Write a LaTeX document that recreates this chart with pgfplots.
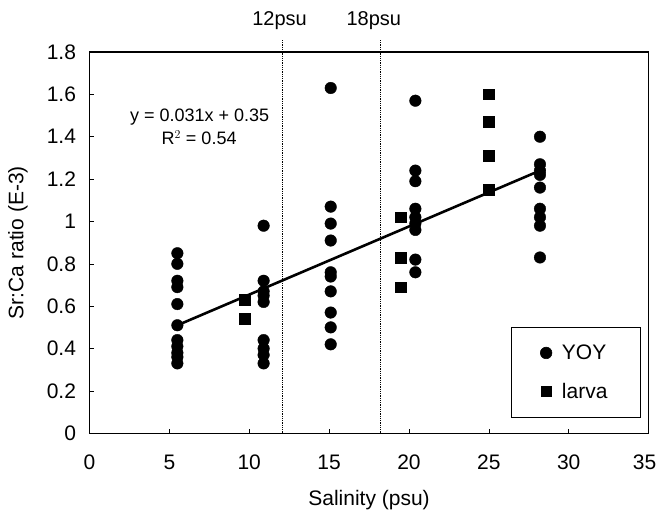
\documentclass[border=0pt]{standalone}
\usepackage{pgfplots}
\pgfplotsset{compat=1.18}
\usepackage{fontspec}
\setmainfont{Liberation Sans}
\begin{document}
\begin{tikzpicture}[x=1pt,y=1pt]
\useasboundingbox (0,0) rectangle (657,518);
\begin{axis}[
  at={(89.5pt,84.7pt)}, anchor=south west,
  scale only axis, width=559.1pt, height=381.3pt,
  xmin=0, xmax=35, ymin=0, ymax=1.8,
  xtick={0,5,10,15,20,25,30,35},
  xticklabels={0,5,10,15,20,25,30,\hspace*{-8pt}35},
  ytick={0,0.2,0.4,0.6,0.8,1,1.2,1.4,1.6,1.8},
  yticklabels={0,0.2,0.4,0.6,0.8,1,1.2,1.4,1.6,1.8},
  tick align=inside, xtick pos=bottom, ytick pos=left,
  major tick length=4pt,
  tick style={black, line width=0.6pt},
  axis line style={black, line width=1.2pt},
  /pgf/number format/assume math mode=true,
  ticklabel style={font=\fontsize{21}{25}\selectfont},
  xticklabel style={yshift=-18pt},
  yticklabel style={xshift=-10pt},
  xlabel={Salinity (psu)},
  ylabel={Sr:Ca ratio (E-3)},
  label style={font=\fontsize{21}{25}\selectfont},
  xlabel style={at={(axis description cs:0.5,-0.176)}, anchor=center},
  ylabel style={at={(axis description cs:-0.128,0.5)}, anchor=center},
  clip=false,
  legend cell align=left,
  legend style={at={(0.986,0.040)}, anchor=south east, draw=black, line width=0.6pt,
    font=\fontsize{21}{25}\selectfont, inner xsep=29pt, inner ysep=14pt, row sep=14pt,
    nodes={inner sep=4pt},
    /tikz/every odd column/.append style={column sep=6pt}},
]
\addplot[only marks, mark=*, mark size=5.8pt, black] table {
x y
5.5 0.85
5.5 0.80
5.5 0.72
5.5 0.69
5.5 0.61
5.5 0.51
5.5 0.44
5.5 0.41
5.5 0.38
5.5 0.36
5.5 0.33
10.9 0.98
10.9 0.72
10.9 0.67
10.9 0.65
10.9 0.62
10.9 0.44
10.9 0.40
10.9 0.37
10.9 0.33
15.1 1.63
15.1 1.07
15.1 0.99
15.1 0.91
15.1 0.76
15.1 0.74
15.1 0.67
15.1 0.57
15.1 0.50
15.1 0.42
20.4 1.57
20.4 1.24
20.4 1.19
20.4 1.06
20.4 1.02
20.4 0.99
20.4 0.96
20.4 0.82
20.4 0.76
28.2 1.40
28.2 1.27
28.2 1.24
28.2 1.22
28.2 1.16
28.2 1.06
28.2 1.02
28.2 0.98
28.2 0.83
};
\addlegendentry{YOY}
\addplot[only marks, mark=square*, mark size=5.3pt, black] table {
x y
9.7 0.63
9.7 0.54
19.5 1.02
19.5 0.83
19.5 0.69
25.0 1.60
25.0 1.47
25.0 1.31
25.0 1.15
};
\addlegendentry{larva}
\addplot[black, line width=2.6pt, forget plot] coordinates {(5.5,0.51) (28.2,1.24)};
\addplot[black, densely dotted, line width=0.8pt, forget plot] coordinates {(12.1,0) (12.1,1.86)};
\addplot[black, densely dotted, line width=0.8pt, forget plot] coordinates {(18.2,0) (18.2,1.86)};
\node[font=\fontsize{20}{24}\selectfont, anchor=center] at (axis cs:11.9,1.8) [yshift=31pt] {12psu};
\node[font=\fontsize{20}{24}\selectfont, anchor=center] at (axis cs:17.8,1.8) [yshift=31pt] {18psu};
\node[font=\fontsize{18}{22}\selectfont, anchor=center] at (axis cs:6.9,1.495) {y = 0.031x + 0.35};
\node[font=\fontsize{18}{22}\selectfont, anchor=center] at (axis cs:6.86,1.395) {R$^2$ = 0.54};
\end{axis}
\end{tikzpicture}
\end{document}
